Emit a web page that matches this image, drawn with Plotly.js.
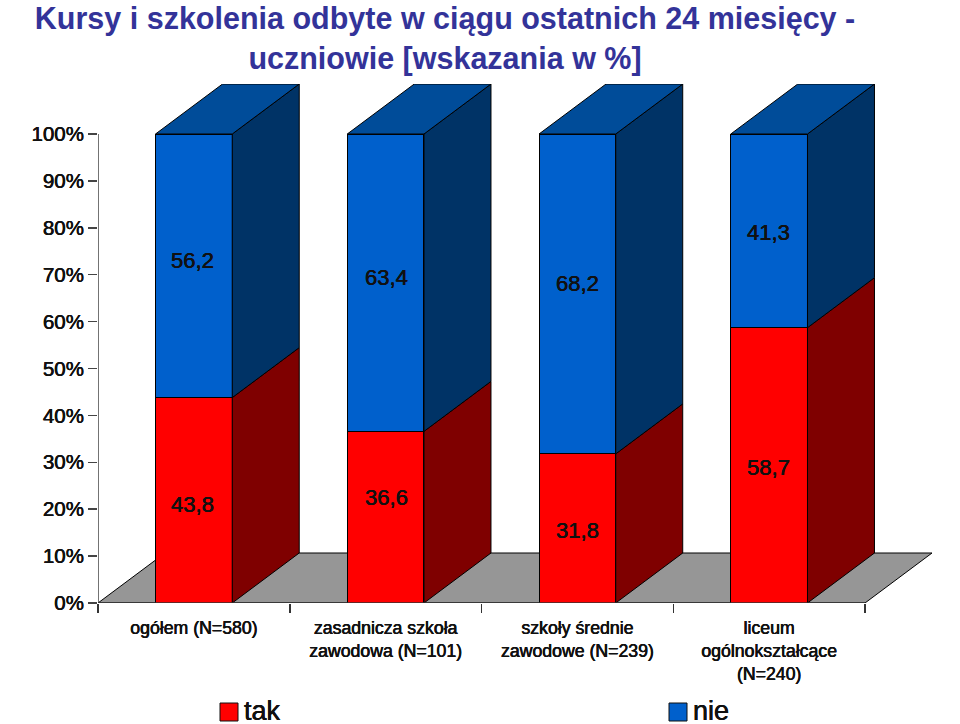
<!DOCTYPE html>
<html>
<head>
<meta charset="utf-8">
<script src="https://cdn.plot.ly/plotly-3.0.1.min.js"></script>
<style>html,body{margin:0;padding:0;background:#fff}</style>
</head>
<body>
<div id="chart" style="width:960px;height:724px"></div>
<script>
const categories = ['ogółem (N=580)', 'zasadnicza szkoła<br>zawodowa (N=101)', 'szkoły średnie<br>zawodowe (N=239)', 'liceum<br>ogólnokształcące<br>(N=240)'];
const tak = [43.8, 36.6, 31.8, 58.7];
const nie = [56.2, 63.4, 68.2, 41.3];
const takLabelShift = [-4, 20, -2, -2];
const nieLabelShift = [5, 5, 10, -2];
const labelNudgeX = [-1, 1, 0, -1];
const yTicks = [0, 10, 20, 30, 40, 50, 60, 70, 80, 90, 100];
const seriesNames = ['tak', 'nie'];

const L = 98, R = 932, T = 84, B = 603;
const depthX = 67 / 191.75, depthY = 50 / 4.69;
const barWidth = 0.4;
const centers = categories.map((_, i) => i + 0.5);
const fmt = v => v.toFixed(1).replace('.', ',');
const FONT = '"Liberation Sans", Arial, sans-serif';
const INK = '#111';
const SEMI = '0.35px 0 0 #111, -0.2px 0 0 #111';
const edge = { color: '#000', width: 1 };

function poly(xs, ys, fill) {
  return { type: 'scatter', mode: 'lines', x: xs.concat(xs[0]), y: ys.concat(ys[0]), fill: 'toself',
           fillcolor: fill, line: edge, hoverinfo: 'skip', showlegend: false };
}

const traces = [
  { type: 'bar', name: seriesNames[0], x: centers, y: tak, width: barWidth, marker: { color: '#FF0000', line: edge }, hoverinfo: 'skip', showlegend: false },
  { type: 'bar', name: seriesNames[1], x: centers, y: nie, width: barWidth, marker: { color: '#0060CC', line: edge }, hoverinfo: 'skip', showlegend: false }
];
centers.forEach((c, i) => {
  const x0 = c - barWidth / 2, x1 = c + barWidth / 2, split = tak[i], top = tak[i] + nie[i];
  traces.push(poly([x1, x1 + depthX, x1 + depthX, x1], [0, depthY, split + depthY, split], '#7F0000'));
  traces.push(poly([x1, x1 + depthX, x1 + depthX, x1], [split, split + depthY, top + depthY, top], '#003366'));
  traces.push(poly([x0, x0 + depthX, x1 + depthX, x1], [top, top + depthY, top + depthY, top], '#004C99'));
});
// axis lines span only the front plane
traces.push({ type: 'scatter', mode: 'lines', x: [0, 0], y: [0, 100], line: { color: '#444', width: 1.5 }, hoverinfo: 'skip', showlegend: false });
traces.push({ type: 'scatter', mode: 'lines', x: [0, categories.length], y: [0, 0], line: { color: '#333', width: 1.5 }, hoverinfo: 'skip', showlegend: false });

const annotations = [];
const valueFont = { family: FONT, size: 22, color: INK, shadow: SEMI };
centers.forEach((c, i) => {
  annotations.push({ x: c, y: tak[i] / 2, text: fmt(tak[i]), showarrow: false, xshift: labelNudgeX[i], yshift: takLabelShift[i], font: valueFont });
  annotations.push({ x: c, y: tak[i] + nie[i] / 2, text: fmt(nie[i]), showarrow: false, xshift: labelNudgeX[i], yshift: nieLabelShift[i], font: valueFont });
});
// legend
const legendX = [220, 669], legendColors = ['#FF0000', '#0060CC'];
const shapes = [{
  type: 'path', layer: 'below', xref: 'x', yref: 'y',
  path: `M0,0 L${depthX},${depthY} L${categories.length + depthX},${depthY} L${categories.length},0 Z`,
  fillcolor: '#969696', line: { color: '#000', width: 1 }
}];
seriesNames.forEach((n, i) => {
  shapes.push({ type: 'rect', xref: 'paper', yref: 'paper',
    x0: (legendX[i] - L) / (R - L), x1: (legendX[i] + 18 - L) / (R - L),
    y0: (B - 721) / (B - T), y1: (B - 703) / (B - T),
    fillcolor: legendColors[i], line: { color: '#111', width: 1 } });
  annotations.push({ xref: 'paper', yref: 'paper', x: (legendX[i] + 22 - L) / (R - L), y: (B - 711) / (B - T), xanchor: 'left', yanchor: 'middle',
    text: n, showarrow: false, font: { family: FONT, size: 27, color: INK, shadow: SEMI } });
});

const layout = {
  width: 960, height: 724, autosize: false,
  paper_bgcolor: '#fff', plot_bgcolor: '#fff',
  margin: { l: L, r: 960 - R, t: T, b: 724 - B, pad: 0 },
  barmode: 'stack', showlegend: false,
  title: { text: 'Kursy i szkolenia odbyte w ciągu ostatnich 24 miesięcy -<br>uczniowie [wskazania w %]', x: 445 / 960, xanchor: 'center', y: 0.96, yanchor: 'top',
           font: { family: FONT, size: 30.5, color: '#333399', weight: 700 } },
  xaxis: { range: [0, categories.length + depthX], tickvals: centers, ticktext: categories, ticks: '', tickangle: 0,
           showgrid: false, zeroline: false, showline: false, fixedrange: true,
           ticklabelstandoff: 12,
           tickfont: { family: FONT, size: 17.7, color: INK, shadow: SEMI },
           minor: { tickvals: [0, 1, 2, 3, 4], ticks: 'outside', ticklen: 9, tickwidth: 1.5, tickcolor: '#333', showgrid: false } },
  yaxis: { range: [0, 100 + depthY], tickvals: yTicks, ticktext: yTicks.map(v => v + '%'), ticks: 'outside', ticklen: 9, tickwidth: 1.5, tickcolor: '#444',
           showgrid: false, zeroline: false, showline: false, fixedrange: true,
           tickfont: { family: FONT, size: 20.5, color: INK, shadow: SEMI } },
  shapes, annotations
};
Plotly.newPlot('chart', traces, layout, { displayModeBar: false, staticPlot: true });
</script>
</body>
</html>
